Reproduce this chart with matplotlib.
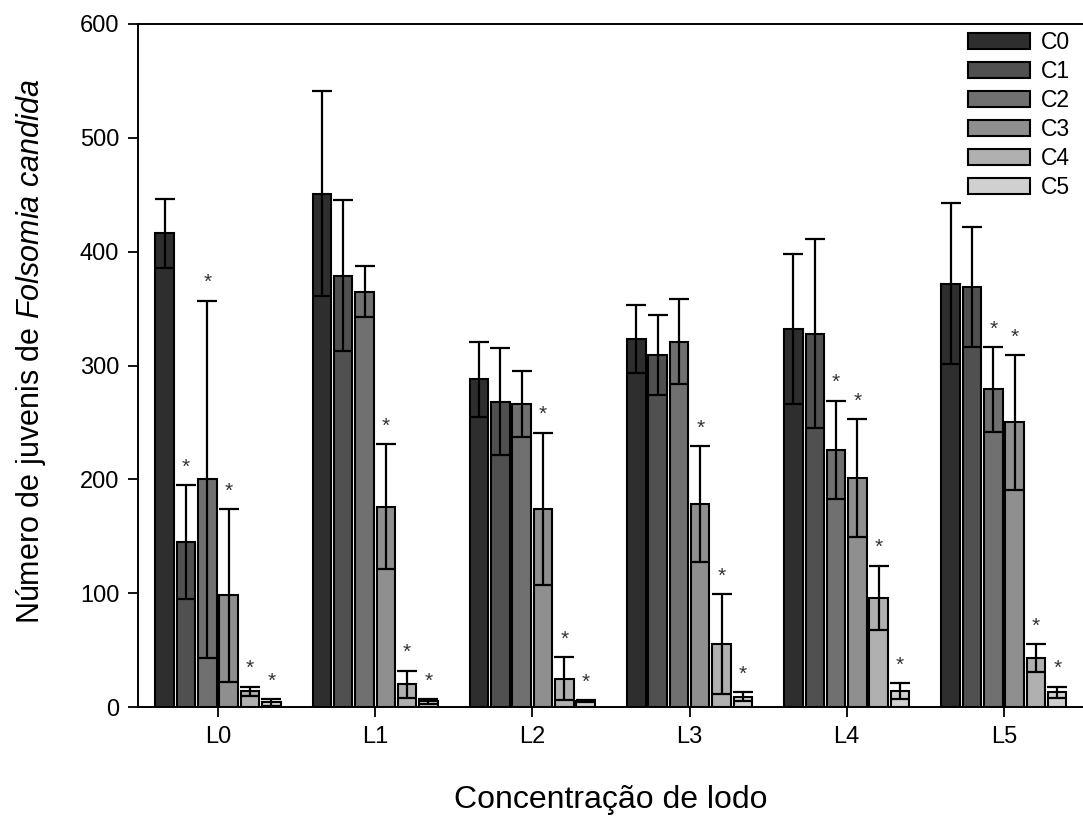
import matplotlib.pyplot as plt
import numpy as np

plt.rcParams['font.family'] = ['Liberation Sans', 'DejaVu Sans']
plt.rcParams['mathtext.fontset'] = 'custom'
plt.rcParams['mathtext.rm'] = 'Liberation Sans'
plt.rcParams['mathtext.it'] = 'Liberation Sans:italic'

groups = ['L0', 'L1', 'L2', 'L3', 'L4', 'L5']
series = ['C0', 'C1', 'C2', 'C3', 'C4', 'C5']

c0 = [416, 451, 288, 323, 332, 372]
c1 = [145, 379, 268, 309, 328, 369]
c2 = [200, 365, 266, 321, 226, 279]
c3 = [98, 176, 174, 178, 201, 250]
c4 = [14, 20, 25, 55, 96, 43]
c5 = [4, 5, 5, 9, 14, 13]

c0_err = [30, 90, 33, 30, 66, 71]
c1_err = [50, 66, 47, 35, 83, 53]
c2_err = [157, 22, 29, 37, 43, 37]
c3_err = [76, 55, 67, 51, 52, 59]
c4_err = [4, 12, 19, 44, 28, 12]
c5_err = [3, 2, 1, 4, 7, 5]

# significance marks (*) per series, per group
c0_sig = [0, 0, 0, 0, 0, 0]
c1_sig = [1, 0, 0, 0, 0, 0]
c2_sig = [1, 0, 0, 0, 1, 1]
c3_sig = [1, 1, 1, 1, 1, 1]
c4_sig = [1, 1, 1, 1, 1, 1]
c5_sig = [1, 1, 1, 1, 1, 1]

means = [c0, c1, c2, c3, c4, c5]
errs = [c0_err, c1_err, c2_err, c3_err, c4_err, c5_err]
sigs = [c0_sig, c1_sig, c2_sig, c3_sig, c4_sig, c5_sig]
colors = ['#2e2e2e', '#505050', '#707070', '#8f8f8f', '#b0b0b0', '#d0d0d0']

fig = plt.figure(figsize=(10.83, 8.19), dpi=100)
ax = fig.add_axes([138/1083, 1 - 707/819, 1 - 138/1083, (707 - 24)/819])

x = np.arange(len(groups))
step = 0.1356
width = 0.118
for i in range(len(series)):
    xi = x + (i - 2.5) * step
    ax.bar(xi, means[i], width, color=colors[i], edgecolor='black', linewidth=1.5,
           label=series[i], zorder=2)
    ax.errorbar(xi, means[i], yerr=errs[i], fmt='none', ecolor='black',
                elinewidth=1.6, capsize=7.5, capthick=1.6, zorder=3)
    for j in range(len(groups)):
        if sigs[i][j]:
            ax.annotate('*', xy=(xi[j], means[i][j] + errs[i][j]), xytext=(0, 13),
                        textcoords='offset points', ha='center', va='center',
                        fontsize=15, color='#333333')

ax.set_xlim(-0.509, 5.503)
ax.set_ylim(0, 600)
ax.set_xticks(x)
ax.set_xticklabels(groups)
ax.set_yticks(range(0, 601, 100))
ax.tick_params(axis='both', direction='out', length=7.5, width=1.3, labelsize=17, pad=6)
ax.spines['right'].set_visible(False)
for s in ['left', 'bottom', 'top']:
    ax.spines[s].set_linewidth(1.4)

ax.set_xlabel('Concentração de lodo', fontsize=23, labelpad=27)
ax.set_ylabel('Número de juvenis de $\\mathit{Folsomia\\ candida}$', fontsize=22)
ax.yaxis.set_label_coords(-0.095, 0.52)

ax.legend(loc='upper left', bbox_to_anchor=(968/1083, 1 - 31/819), bbox_transform=fig.transFigure,
          frameon=False, fontsize=16.5, handlelength=2.7, handleheight=0.7,
          handletextpad=0.5, labelspacing=0.26, borderpad=0, borderaxespad=0)

fig.savefig('out.png', dpi=100)
